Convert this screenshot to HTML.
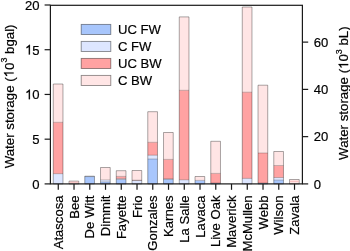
<!DOCTYPE html>
<html><head><meta charset="utf-8"><style>
html,body{margin:0;padding:0;background:#fff;width:350px;height:251px;overflow:hidden}
svg{display:block;will-change:transform}
text{font-family:"Liberation Sans",sans-serif;font-size:13.5px;fill:#000;stroke:#000;stroke-width:0.2px}
.h{fill-opacity:0;stroke-opacity:0}
</style></head><body>
<svg width="350" height="251" viewBox="0 0 350 251">
<rect width="350" height="251" fill="#fff"/>
<rect x="53.27" y="173.70" width="9.70" height="10.20" fill="#dde6ff"/>
<rect x="53.27" y="122.30" width="9.70" height="51.40" fill="#ffa2a2"/>
<rect x="53.27" y="84.00" width="9.70" height="38.30" fill="#ffe5e5"/>
<path d="M53.27,183.90V84.00H62.97V183.90Z" fill="none" stroke="#000" stroke-opacity="0.45" stroke-width="0.75"/>
<path d="M53.27,173.70H62.97M53.27,122.30H62.97" fill="none" stroke="#000" stroke-opacity="0.35" stroke-width="0.65"/>
<rect x="69.02" y="181.10" width="9.70" height="2.80" fill="#ffe5e5"/>
<path d="M69.02,183.90V181.10H78.72V183.90Z" fill="none" stroke="#000" stroke-opacity="0.45" stroke-width="0.75"/>
<rect x="84.77" y="176.60" width="9.70" height="7.30" fill="#a8c6fc"/>
<rect x="84.77" y="176.20" width="9.70" height="0.40" fill="#dde6ff"/>
<path d="M84.77,183.90V176.20H94.47V183.90Z" fill="none" stroke="#000" stroke-opacity="0.45" stroke-width="0.75"/>
<path d="M84.77,176.60H94.47" fill="none" stroke="#000" stroke-opacity="0.35" stroke-width="0.65"/>
<rect x="100.52" y="181.90" width="9.70" height="2.00" fill="#a8c6fc"/>
<rect x="100.52" y="179.90" width="9.70" height="2.00" fill="#dde6ff"/>
<rect x="100.52" y="167.50" width="9.70" height="12.40" fill="#ffe5e5"/>
<path d="M100.52,183.90V167.50H110.22V183.90Z" fill="none" stroke="#000" stroke-opacity="0.45" stroke-width="0.75"/>
<path d="M100.52,181.90H110.22M100.52,179.90H110.22" fill="none" stroke="#000" stroke-opacity="0.35" stroke-width="0.65"/>
<rect x="116.27" y="179.50" width="9.70" height="4.40" fill="#a8c6fc"/>
<rect x="116.27" y="178.60" width="9.70" height="0.90" fill="#dde6ff"/>
<rect x="116.27" y="176.40" width="9.70" height="2.20" fill="#ffa2a2"/>
<rect x="116.27" y="170.70" width="9.70" height="5.70" fill="#ffe5e5"/>
<path d="M116.27,183.90V170.70H125.97V183.90Z" fill="none" stroke="#000" stroke-opacity="0.45" stroke-width="0.75"/>
<path d="M116.27,179.50H125.97M116.27,178.60H125.97M116.27,176.40H125.97" fill="none" stroke="#000" stroke-opacity="0.35" stroke-width="0.65"/>
<rect x="132.02" y="180.50" width="9.70" height="3.40" fill="#dde6ff"/>
<rect x="132.02" y="180.20" width="9.70" height="0.30" fill="#ffa2a2"/>
<rect x="132.02" y="170.50" width="9.70" height="9.70" fill="#ffe5e5"/>
<path d="M132.02,183.90V170.50H141.72V183.90Z" fill="none" stroke="#000" stroke-opacity="0.45" stroke-width="0.75"/>
<path d="M132.02,180.50H141.72M132.02,180.20H141.72" fill="none" stroke="#000" stroke-opacity="0.35" stroke-width="0.65"/>
<rect x="147.77" y="159.00" width="9.70" height="24.90" fill="#a8c6fc"/>
<rect x="147.77" y="155.20" width="9.70" height="3.80" fill="#dde6ff"/>
<rect x="147.77" y="142.30" width="9.70" height="12.90" fill="#ffa2a2"/>
<rect x="147.77" y="111.70" width="9.70" height="30.60" fill="#ffe5e5"/>
<path d="M147.77,183.90V111.70H157.47V183.90Z" fill="none" stroke="#000" stroke-opacity="0.45" stroke-width="0.75"/>
<path d="M147.77,159.00H157.47M147.77,155.20H157.47M147.77,142.30H157.47" fill="none" stroke="#000" stroke-opacity="0.35" stroke-width="0.65"/>
<rect x="163.52" y="179.30" width="9.70" height="4.60" fill="#a8c6fc"/>
<rect x="163.52" y="178.90" width="9.70" height="0.40" fill="#dde6ff"/>
<rect x="163.52" y="159.40" width="9.70" height="19.50" fill="#ffa2a2"/>
<rect x="163.52" y="132.50" width="9.70" height="26.90" fill="#ffe5e5"/>
<path d="M163.52,183.90V132.50H173.22V183.90Z" fill="none" stroke="#000" stroke-opacity="0.45" stroke-width="0.75"/>
<path d="M163.52,179.30H173.22M163.52,178.90H173.22M163.52,159.40H173.22" fill="none" stroke="#000" stroke-opacity="0.35" stroke-width="0.65"/>
<rect x="179.27" y="179.80" width="9.70" height="4.10" fill="#dde6ff"/>
<rect x="179.27" y="90.30" width="9.70" height="89.50" fill="#ffa2a2"/>
<rect x="179.27" y="16.90" width="9.70" height="73.40" fill="#ffe5e5"/>
<path d="M179.27,183.90V16.90H188.97V183.90Z" fill="none" stroke="#000" stroke-opacity="0.45" stroke-width="0.75"/>
<path d="M179.27,179.80H188.97M179.27,90.30H188.97" fill="none" stroke="#000" stroke-opacity="0.35" stroke-width="0.65"/>
<rect x="195.02" y="180.40" width="9.70" height="3.50" fill="#a8c6fc"/>
<rect x="195.02" y="176.50" width="9.70" height="3.90" fill="#ffe5e5"/>
<path d="M195.02,183.90V176.50H204.72V183.90Z" fill="none" stroke="#000" stroke-opacity="0.45" stroke-width="0.75"/>
<path d="M195.02,180.40H204.72" fill="none" stroke="#000" stroke-opacity="0.35" stroke-width="0.65"/>
<rect x="210.77" y="183.00" width="9.70" height="0.90" fill="#a8c6fc"/>
<rect x="210.77" y="173.40" width="9.70" height="9.60" fill="#ffa2a2"/>
<rect x="210.77" y="141.30" width="9.70" height="32.10" fill="#ffe5e5"/>
<path d="M210.77,183.90V141.30H220.47V183.90Z" fill="none" stroke="#000" stroke-opacity="0.45" stroke-width="0.75"/>
<path d="M210.77,183.00H220.47M210.77,173.40H220.47" fill="none" stroke="#000" stroke-opacity="0.35" stroke-width="0.65"/>
<rect x="242.27" y="178.40" width="9.70" height="5.50" fill="#dde6ff"/>
<rect x="242.27" y="92.20" width="9.70" height="86.20" fill="#ffa2a2"/>
<rect x="242.27" y="7.00" width="9.70" height="85.20" fill="#ffe5e5"/>
<path d="M242.27,183.90V7.00H251.97V183.90Z" fill="none" stroke="#000" stroke-opacity="0.45" stroke-width="0.75"/>
<path d="M242.27,178.40H251.97M242.27,92.20H251.97" fill="none" stroke="#000" stroke-opacity="0.35" stroke-width="0.65"/>
<rect x="258.02" y="183.00" width="9.70" height="0.90" fill="#a8c6fc"/>
<rect x="258.02" y="153.00" width="9.70" height="30.00" fill="#ffa2a2"/>
<rect x="258.02" y="85.20" width="9.70" height="67.80" fill="#ffe5e5"/>
<path d="M258.02,183.90V85.20H267.72V183.90Z" fill="none" stroke="#000" stroke-opacity="0.45" stroke-width="0.75"/>
<path d="M258.02,183.00H267.72M258.02,153.00H267.72" fill="none" stroke="#000" stroke-opacity="0.35" stroke-width="0.65"/>
<rect x="273.77" y="180.10" width="9.70" height="3.80" fill="#a8c6fc"/>
<rect x="273.77" y="177.50" width="9.70" height="2.60" fill="#dde6ff"/>
<rect x="273.77" y="165.50" width="9.70" height="12.00" fill="#ffa2a2"/>
<rect x="273.77" y="151.50" width="9.70" height="14.00" fill="#ffe5e5"/>
<path d="M273.77,183.90V151.50H283.47V183.90Z" fill="none" stroke="#000" stroke-opacity="0.45" stroke-width="0.75"/>
<path d="M273.77,180.10H283.47M273.77,177.50H283.47M273.77,165.50H283.47" fill="none" stroke="#000" stroke-opacity="0.35" stroke-width="0.65"/>
<rect x="289.52" y="179.50" width="9.70" height="4.40" fill="#ffe5e5"/>
<path d="M289.52,183.90V179.50H299.22V183.90Z" fill="none" stroke="#000" stroke-opacity="0.45" stroke-width="0.75"/>
<rect x="69.42" y="181.80" width="8.90" height="0.8" fill="#f6b4b4"/>
<rect x="289.92" y="180.90" width="8.90" height="0.8" fill="#f6b4b4"/>
<g stroke="#1a1a1a" stroke-width="1.2" fill="none">
<rect x="50.40" y="5.30" width="252.00" height="178.60"/>
<line x1="44.6" y1="183.90" x2="50.40" y2="183.90"/>
<line x1="44.6" y1="139.18" x2="50.40" y2="139.18"/>
<line x1="44.6" y1="94.45" x2="50.40" y2="94.45"/>
<line x1="44.6" y1="49.72" x2="50.40" y2="49.72"/>
<line x1="44.6" y1="5.00" x2="50.40" y2="5.00"/>
<line x1="302.40" y1="183.90" x2="308.2" y2="183.90"/>
<line x1="302.40" y1="136.64" x2="308.2" y2="136.64"/>
<line x1="302.40" y1="89.38" x2="308.2" y2="89.38"/>
<line x1="302.40" y1="42.12" x2="308.2" y2="42.12"/>
<line x1="58.27" y1="183.90" x2="58.27" y2="189.8"/>
<line x1="74.02" y1="183.90" x2="74.02" y2="189.8"/>
<line x1="89.77" y1="183.90" x2="89.77" y2="189.8"/>
<line x1="105.52" y1="183.90" x2="105.52" y2="189.8"/>
<line x1="121.27" y1="183.90" x2="121.27" y2="189.8"/>
<line x1="137.02" y1="183.90" x2="137.02" y2="189.8"/>
<line x1="152.77" y1="183.90" x2="152.77" y2="189.8"/>
<line x1="168.52" y1="183.90" x2="168.52" y2="189.8"/>
<line x1="184.27" y1="183.90" x2="184.27" y2="189.8"/>
<line x1="200.02" y1="183.90" x2="200.02" y2="189.8"/>
<line x1="215.77" y1="183.90" x2="215.77" y2="189.8"/>
<line x1="231.52" y1="183.90" x2="231.52" y2="189.8"/>
<line x1="247.27" y1="183.90" x2="247.27" y2="189.8"/>
<line x1="263.02" y1="183.90" x2="263.02" y2="189.8"/>
<line x1="278.77" y1="183.90" x2="278.77" y2="189.8"/>
<line x1="294.52" y1="183.90" x2="294.52" y2="189.8"/>
</g>
<rect x="81.2" y="24.40" width="29.6" height="10.1" fill="#a8c6fc" stroke="#000" stroke-opacity="0.45" stroke-width="0.9"/>
<text transform="translate(118.00,34.40) scale(0.97,1)">UC FW</text>
<rect x="81.2" y="41.40" width="29.6" height="10.1" fill="#dde6ff" stroke="#000" stroke-opacity="0.45" stroke-width="0.9"/>
<text transform="translate(118.00,51.40) scale(0.97,1)">C FW</text>
<rect x="81.2" y="58.40" width="29.6" height="10.1" fill="#ffa2a2" stroke="#000" stroke-opacity="0.45" stroke-width="0.9"/>
<text transform="translate(118.00,68.40) scale(0.97,1)">UC BW</text>
<rect x="81.2" y="75.40" width="29.6" height="10.1" fill="#ffe5e5" stroke="#000" stroke-opacity="0.45" stroke-width="0.9"/>
<text transform="translate(118.00,85.40) scale(0.97,1)">C BW</text>
<text transform="translate(39.60,188.70) scale(0.97,1)" text-anchor="end">0</text>
<text transform="translate(39.60,143.98) scale(0.97,1)" text-anchor="end">5</text>
<text id="t1_1" transform="translate(39.60,99.25) scale(0.97,1)" text-anchor="end"><tspan class="h">1</tspan>0</text>
<text id="t1_2" transform="translate(39.60,54.52) scale(0.97,1)" text-anchor="end"><tspan class="h">1</tspan>5</text>
<text transform="translate(39.60,9.80) scale(0.97,1)" text-anchor="end">20</text>
<text transform="translate(313.80,188.70) scale(0.97,1)">0</text>
<text transform="translate(313.80,141.44) scale(0.97,1)">20</text>
<text transform="translate(313.80,94.18) scale(0.97,1)">40</text>
<text transform="translate(313.80,46.92) scale(0.97,1)">60</text>
<text transform="translate(62.88,195.50) rotate(-90) scale(0.97,1)" text-anchor="end">Atascosa</text>
<text transform="translate(78.62,195.50) rotate(-90) scale(0.97,1)" text-anchor="end">Bee</text>
<text transform="translate(94.37,195.50) rotate(-90) scale(0.97,1)" text-anchor="end">De Witt</text>
<text transform="translate(110.12,195.50) rotate(-90) scale(0.97,1)" text-anchor="end">Dimmit</text>
<text transform="translate(125.87,195.50) rotate(-90) scale(0.97,1)" text-anchor="end">Fayette</text>
<text transform="translate(141.62,195.50) rotate(-90) scale(0.97,1)" text-anchor="end">Frio</text>
<text transform="translate(157.37,195.50) rotate(-90) scale(0.97,1)" text-anchor="end">Gonzales</text>
<text transform="translate(173.12,195.50) rotate(-90) scale(0.97,1)" text-anchor="end">Karnes</text>
<text transform="translate(188.87,195.50) rotate(-90) scale(0.97,1)" text-anchor="end">La Salle</text>
<text transform="translate(204.62,195.50) rotate(-90) scale(0.97,1)" text-anchor="end">Lavaca</text>
<text transform="translate(220.37,195.50) rotate(-90) scale(0.97,1)" text-anchor="end">Live Oak</text>
<text transform="translate(236.12,195.50) rotate(-90) scale(0.97,1)" text-anchor="end">Maverick</text>
<text transform="translate(251.87,195.50) rotate(-90) scale(0.97,1)" text-anchor="end">McMullen</text>
<text transform="translate(267.62,195.50) rotate(-90) scale(0.97,1)" text-anchor="end">Webb</text>
<text transform="translate(283.38,195.50) rotate(-90) scale(0.97,1)" text-anchor="end">Wilson</text>
<text transform="translate(299.12,195.50) rotate(-90) scale(0.97,1)" text-anchor="end">Zavala</text>
<text id="t1_3" transform="translate(13.60,96.40) rotate(-90) scale(0.985,1)" text-anchor="middle">Water storage (<tspan class="h">1</tspan>0<tspan dy="-6.6" style="font-size:9px">3</tspan><tspan dy="6.6"> bgal)</tspan></text>
<text id="t1_4" transform="translate(348.20,93.10) rotate(-90) scale(0.985,1)" text-anchor="middle">Water storage (<tspan class="h">1</tspan>0<tspan dy="-6.6" style="font-size:9px">3</tspan><tspan dy="6.6"> bL)</tspan></text>
<g transform="translate(39.60,99.25) scale(0.97,1)" fill="#000" stroke="#000" stroke-width="30.3"><path transform="translate(-15.005,0.000) scale(0.006592,-0.006592)" d="M763 0H583V1147Q470 1040 223 953V1126Q500 1240 646 1466H763Z"/></g>
<g transform="translate(39.60,54.52) scale(0.97,1)" fill="#000" stroke="#000" stroke-width="30.3"><path transform="translate(-15.005,0.000) scale(0.006592,-0.006592)" d="M763 0H583V1147Q470 1040 223 953V1126Q500 1240 646 1466H763Z"/></g>
<g transform="translate(13.60,96.40) rotate(-90) scale(0.985,1)" fill="#000" stroke="#000" stroke-width="30.3"><path transform="translate(19.308,0.000) scale(0.006592,-0.006592)" d="M763 0H583V1147Q470 1040 223 953V1126Q500 1240 646 1466H763Z"/></g>
<g transform="translate(348.20,93.10) rotate(-90) scale(0.985,1)" fill="#000" stroke="#000" stroke-width="30.3"><path transform="translate(24.551,0.000) scale(0.006592,-0.006592)" d="M763 0H583V1147Q470 1040 223 953V1126Q500 1240 646 1466H763Z"/></g>
</svg>
</body></html>
